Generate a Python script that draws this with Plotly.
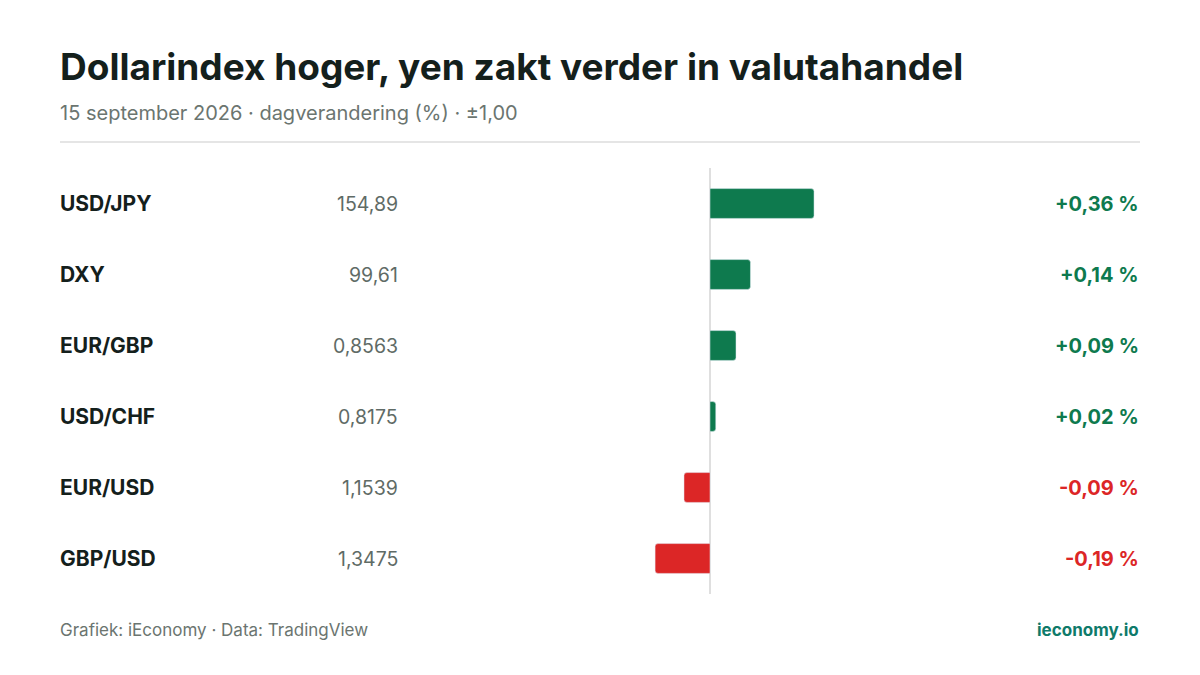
import plotly.graph_objects as go

pairs = ["USD/JPY", "DXY", "EUR/GBP", "USD/CHF", "EUR/USD", "GBP/USD"]
koers = ["154,89", "99,61", "0,8563", "0,8175", "1,1539", "1,3475"]
change = [0.36, 0.14, 0.09, 0.02, -0.09, -0.19]

GREEN = "#0e7a4e"
RED = "#dc2626"
FONT = "Inter, Noto Sans, sans-serif"
W, H = 1200, 675
OFF = 8  # page body margin
PAD = 2  # annotation padding

def px_x(px):
    return (px - OFF) / W

def py(px):
    return 1 - (px - OFF) / H

def tx(px, anchor):
    return px_x(px - PAD if anchor == "left" else px + PAD)

colors = [GREEN if c >= 0 else RED for c in change]

fig = go.Figure(go.Bar(
    x=change, y=pairs, orientation="h", width=0.42,
    marker=dict(color=colors, cornerradius=3), hoverinfo="skip",
))

for p, k, c, col in zip(pairs, koers, change, colors):
    fig.add_annotation(x=tx(60, "left"), xref="paper", y=p, yref="y", text=f"<b>{p}</b>", yanchor="middle",
                       showarrow=False, xanchor="left", font=dict(size=21, color="#14201c"))
    fig.add_annotation(x=tx(398, "right"), xref="paper", y=p, yref="y", text=k, yanchor="middle",
                       showarrow=False, xanchor="right", font=dict(size=19.5, color="#5f6b66"))
    txt = ("+" if c >= 0 else "-") + f"{abs(c):.2f}".replace(".", ",") + " %"
    fig.add_annotation(x=tx(1139, "right"), xref="paper", y=p, yref="y", text=f"<b>{txt}</b>", yanchor="middle",
                       showarrow=False, xanchor="right", font=dict(size=20, color=col))

def note(x, y, text, anchor, size, color):
    fig.add_annotation(x=tx(x, anchor), xref="paper", y=py(y), yref="paper", showarrow=False,
                       xanchor=anchor, yanchor="middle", text=text, font=dict(size=size, color=color))

note(60, 67, "<b>Dollarindex hoger, yen zakt verder in valutahandel</b>", "left", 37, "#14201c")
note(60, 113, "15 september 2026 · dagverandering (%) · ±1,00", "left", 20, "#6b7570")
note(60, 630, "Grafiek: iEconomy · Data: TradingView", "left", 17, "#6b7570")
note(1139, 630, "<b>ieconomy.io</b>", "right", 17, "#0e7a6a")

fig.add_shape(type="line", xref="paper", yref="paper", x0=px_x(60), x1=px_x(1140), y0=py(142), y1=py(142),
              line=dict(color="#dddddd", width=1.5))
fig.add_shape(type="line", xref="x", yref="paper", x0=0, x1=0, y0=py(594), y1=py(168),
              line=dict(color="#d4d4d4", width=1.5), layer="below")

fig.update_layout(
    width=W, height=H, margin=dict(l=0, r=0, t=0, b=0),
    paper_bgcolor="white", plot_bgcolor="white", showlegend=False,
    font=dict(family=FONT),
    xaxis=dict(domain=[px_x(421), px_x(999)], range=[-1, 1], visible=False),
    yaxis=dict(domain=[py(594), py(168)], autorange="reversed", visible=False),
)

fig.write_html("out.html")
